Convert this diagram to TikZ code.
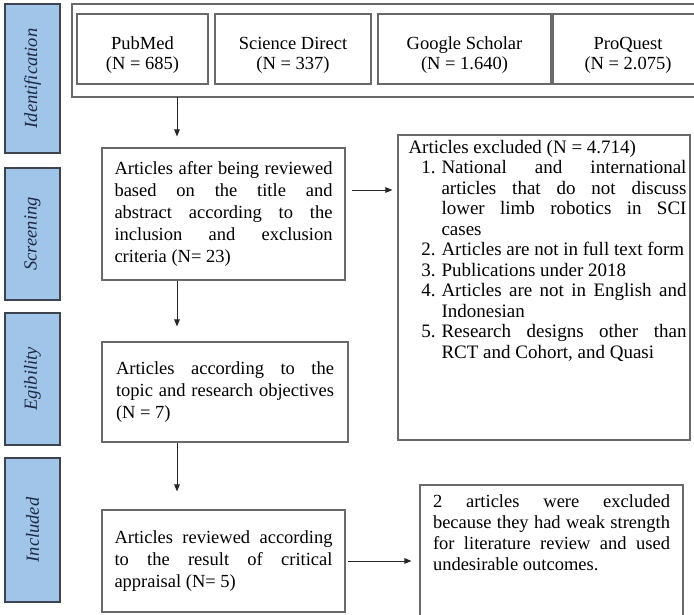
\documentclass[tikz,border=0pt]{standalone}
\usepackage{fontspec}
\setmainfont{Liberation Serif}
\usepackage{enumitem}
\usetikzlibrary{arrows.meta}
\definecolor{bandblue}{RGB}{160,197,232}
\definecolor{bandedge}{RGB}{62,68,78}
\definecolor{bandtext}{RGB}{28,40,70}
\definecolor{boxedge}{RGB}{105,105,105}
\hyphenpenalty=10000
\exhyphenpenalty=10000
\tolerance=9999
\emergencystretch=2em
\newcommand{\nosqueeze}{\spaceskip=.25em plus .6em minus 0em\relax}

\begin{document}
\begin{tikzpicture}[x=1pt,y=-1pt,
    band/.style={draw=bandedge,line width=1.6pt,fill=bandblue,rotate=90,
      minimum height=55pt,inner sep=0pt,text=bandtext,
      font=\fontsize{18.5}{20}\selectfont\itshape},
    box/.style={draw=boxedge,line width=1.1pt,inner sep=0pt,
      font=\fontsize{18.5}{22}\selectfont\nosqueeze},
    srcbox/.style={box,minimum height=70pt,align=center,
      font=\fontsize{18.5}{19.5}\selectfont},
    stepbox/.style={box,text width=218pt,align=justify},
    arr/.style={-{Triangle[length=7pt,width=5.5pt]},line width=0.9pt,black!85}]
        \useasboundingbox (0,0) rectangle (694,615);
        
        % phases
        \node[band,minimum width=149pt] (p0) at (32.5,78.5) {Identification};
        \node[band,minimum width=132pt] (p1) at (32.5,234) {Screening};
        \node[band,minimum width=132pt] (p2) at (32.5,379) {Egibility};
        \node[band,minimum width=144pt] (p3) at (32.5,530) {Included};
        
        % databases
        \node[box,minimum width=640pt,minimum height=93pt] (idframe) at (392,50.5) {};
        \node[srcbox,minimum width=131pt] (d0) at (142.5,49) {\rule{0pt}{25pt}PubMed\\(N = 685)};
        \node[srcbox,minimum width=156pt] (d1) at (293,49) {\rule{0pt}{25pt}Science Direct\\(N = 337)};
        \node[srcbox,minimum width=173pt] (d2) at (464.5,49) {\rule{0pt}{25pt}Google Scholar\\(N = 1.640)};
        \node[srcbox,minimum width=150pt] (d3) at (628,49) {\rule{0pt}{25pt}ProQuest\\(N = 2.075)};
        
        % flow
        \node[stepbox,minimum width=243pt,minimum height=132pt] (scr) at (223.5,214)
          {Articles after being reviewed based on the title and abstract according to the inclusion and exclusion criteria (N= 23)};
        \node[stepbox,minimum width=246pt,minimum height=100pt] (eg) at (225,392)
          {Articles according to the topic and research objectives (N = 7)};
        \node[stepbox,minimum width=243pt,minimum height=102pt] (incl) at (223.5,561)
          {Articles reviewed according to the result of critical appraisal (N= 5)};
        
        % exclusions
        \node[box,minimum width=292pt,minimum height=305pt] (excl) at (544,287.5)
          {\hspace*{7pt}\parbox[c][295pt][t]{278pt}{\fontsize{19}{20.5}\selectfont\nosqueeze
            Articles excluded (N = 4.714)
            \begin{enumerate}[leftmargin=33pt,labelsep=6pt,topsep=0pt,itemsep=0pt,parsep=0pt,partopsep=0pt]
              \item National and international articles that do not discuss lower limb robotics in SCI cases
              \item Articles are not in full text form
              \item Publications under 2018
              \item Articles are not in English and Indonesian
              \item Research designs other than RCT and Cohort, and Quasi
            \end{enumerate}}};
        \node[box,minimum width=263pt,minimum height=155pt] (excl2) at (551.5,562.5)
          {\parbox[c][135pt][t]{237pt}{\fontsize{18.5}{21}\selectfont\nosqueeze
            2 articles were excluded because they had weak strength for literature review and used undesirable outcomes.}};
        
        \coordinate (a1) at (177,97);
        \coordinate (r1) at (0,190);
        
        \draw[arr,shorten >=11pt] (a1) -- (a1 |- scr.north);
        \draw[arr,shorten >=15pt] (scr.south -| a1) -- (eg.north -| a1);
        \draw[arr,shorten >=18pt] (eg.south -| a1) -- (incl.north -| a1);
        
        \draw[arr,shorten <=6pt,shorten >=5pt] (scr.east |- r1) -- (excl.west |- r1);
        \draw[arr,shorten <=2pt,shorten >=8pt] (incl.east) -- (excl2.west |- incl.east);
    \end{tikzpicture}
\end{document}
